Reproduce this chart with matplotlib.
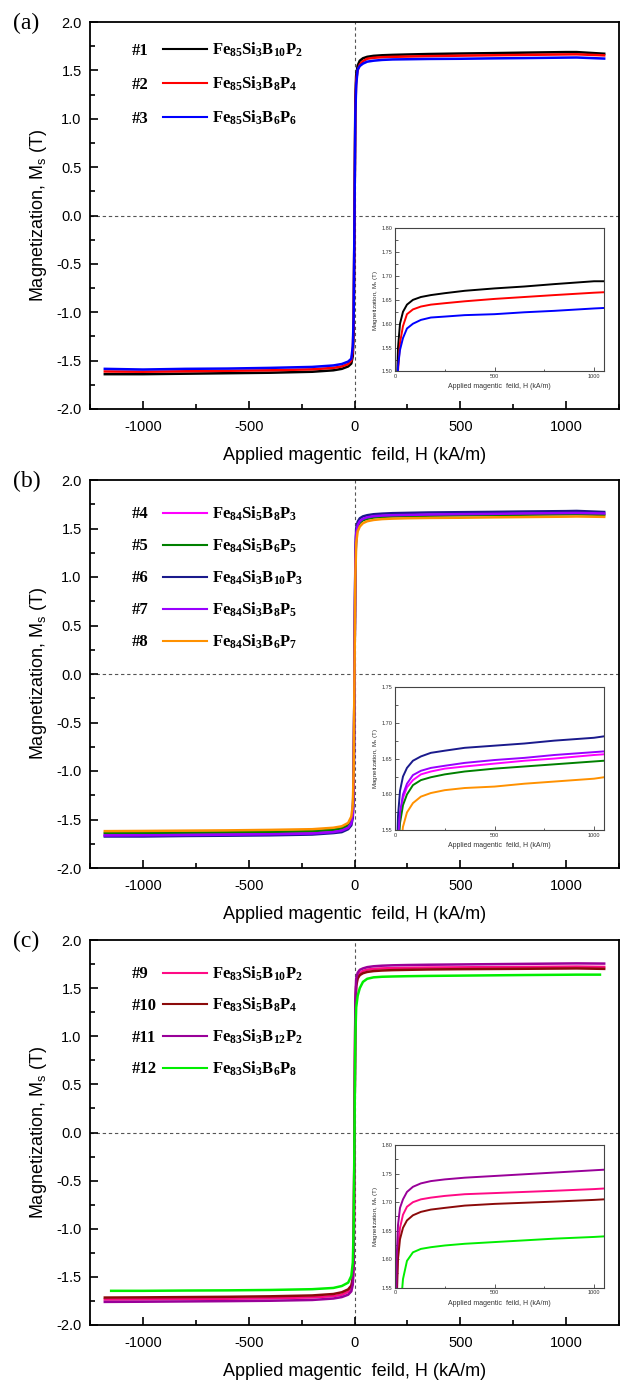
import matplotlib
matplotlib.use("Agg")
import matplotlib.pyplot as plt
from matplotlib.lines import Line2D
from matplotlib.ticker import MultipleLocator, FormatStrFormatter

plt.rcParams['font.family'] = ['Liberation Sans', 'DejaVu Sans']
plt.rcParams['mathtext.fontset'] = 'custom'
plt.rcParams['mathtext.rm'] = 'Liberation Sans'
plt.rcParams['mathtext.it'] = 'Liberation Sans:italic'
plt.rcParams['mathtext.bf'] = 'Liberation Serif:bold'
plt.rcParams['axes.unicode_minus'] = False

# applied field (kA/m), shared by all loops
H_GRID = [-1180, -1000, -800, -600, -400, -200, -100, -60, -30, -15, -8, -4, 0,
          4, 8, 15, 25, 40, 60, 90, 130, 180, 250, 350, 500, 650, 800, 1000, 1050, 1180]
# sample #12 was measured over a slightly shorter sweep
H_GRID_12 = [-1150, -1000, -800, -600, -400, -200, -100, -60, -30, -15, -8, -4, 0,
             4, 8, 15, 25, 40, 60, 90, 130, 180, 250, 350, 500, 650, 800, 1000, 1050, 1160]

M_1 = [-1.640, -1.640, -1.635, -1.630, -1.625, -1.615, -1.600, -1.585, -1.560, -1.530, -1.450, -1.200, 0.0,
       1.20, 1.45, 1.55, 1.60, 1.625, 1.640, 1.650, 1.656, 1.660, 1.664, 1.669, 1.674, 1.678, 1.683, 1.689, 1.689, 1.672]
M_2 = [-1.612, -1.615, -1.610, -1.605, -1.600, -1.590, -1.575, -1.560, -1.535, -1.500, -1.400, -1.100, 0.0,
       1.10, 1.40, 1.50, 1.56, 1.595, 1.620, 1.630, 1.636, 1.640, 1.643, 1.647, 1.652, 1.656, 1.660, 1.665, 1.666, 1.655]
M_3 = [-1.585, -1.592, -1.585, -1.582, -1.575, -1.565, -1.550, -1.535, -1.510, -1.480, -1.350, -1.050, 0.0,
       1.05, 1.35, 1.51, 1.545, 1.570, 1.590, 1.600, 1.608, 1.613, 1.615, 1.618, 1.620, 1.624, 1.627, 1.632, 1.633, 1.622]
M_4 = [-1.655, -1.653, -1.650, -1.647, -1.642, -1.635, -1.620, -1.605, -1.575, -1.530, -1.440, -1.150, 0.0,
       1.15, 1.44, 1.53, 1.57, 1.595, 1.610, 1.620, 1.628, 1.632, 1.636, 1.639, 1.643, 1.647, 1.650, 1.655, 1.656, 1.650]
M_5 = [-1.640, -1.638, -1.635, -1.632, -1.628, -1.620, -1.605, -1.590, -1.560, -1.520, -1.420, -1.120, 0.0,
       1.12, 1.42, 1.52, 1.56, 1.585, 1.600, 1.613, 1.620, 1.624, 1.628, 1.632, 1.636, 1.639, 1.642, 1.646, 1.647, 1.640]
M_6 = [-1.675, -1.675, -1.670, -1.667, -1.663, -1.655, -1.640, -1.630, -1.600, -1.560, -1.480, -1.200, 0.0,
       1.20, 1.50, 1.57, 1.605, 1.625, 1.637, 1.647, 1.653, 1.658, 1.661, 1.665, 1.668, 1.671, 1.675, 1.679, 1.681, 1.670]
M_7 = [-1.665, -1.663, -1.660, -1.657, -1.652, -1.645, -1.630, -1.615, -1.585, -1.540, -1.450, -1.150, 0.0,
       1.15, 1.45, 1.535, 1.575, 1.600, 1.615, 1.627, 1.633, 1.637, 1.640, 1.644, 1.648, 1.651, 1.655, 1.659, 1.660, 1.655]
M_8 = [-1.620, -1.618, -1.615, -1.612, -1.607, -1.600, -1.585, -1.570, -1.535, -1.470, -1.350, -1.000, 0.0,
       1.00, 1.35, 1.47, 1.52, 1.555, 1.575, 1.588, 1.597, 1.602, 1.606, 1.609, 1.611, 1.615, 1.618, 1.622, 1.624, 1.620]
M_9 = [-1.735, -1.733, -1.730, -1.727, -1.722, -1.713, -1.700, -1.685, -1.655, -1.615, -1.540, -1.300, 0.0,
       1.30, 1.55, 1.62, 1.655, 1.678, 1.692, 1.700, 1.705, 1.708, 1.711, 1.714, 1.716, 1.718, 1.720, 1.723, 1.724, 1.720]
M_10 = [-1.715, -1.713, -1.710, -1.707, -1.702, -1.693, -1.678, -1.660, -1.630, -1.590, -1.510, -1.280, 0.0,
        1.28, 1.52, 1.60, 1.635, 1.655, 1.668, 1.677, 1.683, 1.687, 1.690, 1.694, 1.697, 1.699, 1.701, 1.704, 1.705, 1.700]
M_11 = [-1.760, -1.758, -1.755, -1.752, -1.748, -1.740, -1.725, -1.710, -1.685, -1.650, -1.580, -1.350, 0.0,
        1.35, 1.60, 1.66, 1.69, 1.705, 1.718, 1.727, 1.733, 1.737, 1.740, 1.743, 1.746, 1.749, 1.752, 1.756, 1.757, 1.755]
M_12 = [-1.645, -1.645, -1.642, -1.640, -1.636, -1.628, -1.615, -1.595, -1.560, -1.490, -1.350, -1.000, 0.0,
        1.00, 1.30, 1.42, 1.50, 1.565, 1.597, 1.612, 1.618, 1.621, 1.624, 1.627, 1.630, 1.633, 1.636, 1.639, 1.640, 1.640]

IDS_A = ['#1', '#2', '#3']
NAMES_A = [r'$\mathbf{Fe_{85}Si_{3}B_{10}P_{2}}$', r'$\mathbf{Fe_{85}Si_{3}B_{8}P_{4}}$',
           r'$\mathbf{Fe_{85}Si_{3}B_{6}P_{6}}$']
COLORS_A = ['black', '#ff0000', '#0000ff']

IDS_B = ['#4', '#5', '#6', '#7', '#8']
NAMES_B = [r'$\mathbf{Fe_{84}Si_{5}B_{8}P_{3}}$', r'$\mathbf{Fe_{84}Si_{5}B_{6}P_{5}}$',
           r'$\mathbf{Fe_{84}Si_{3}B_{10}P_{3}}$', r'$\mathbf{Fe_{84}Si_{3}B_{8}P_{5}}$',
           r'$\mathbf{Fe_{84}Si_{3}B_{6}P_{7}}$']
COLORS_B = ['#ff00ff', '#008000', '#1a1a8c', '#9900ff', '#ff9100']

IDS_C = ['#9', '#10', '#11', '#12']
NAMES_C = [r'$\mathbf{Fe_{83}Si_{5}B_{10}P_{2}}$', r'$\mathbf{Fe_{83}Si_{5}B_{8}P_{4}}$',
           r'$\mathbf{Fe_{83}Si_{3}B_{12}P_{2}}$', r'$\mathbf{Fe_{83}Si_{3}B_{6}P_{8}}$']
COLORS_C = ['#ff0a85', '#8b0a0a', '#990099', '#00ee00']

XLABEL = 'Applied magentic  feild, H (kA/m)'
YLABEL = r'Magnetization, M$_\mathrm{s}$ (T)'

W, H = 621, 1389
fig = plt.figure(figsize=(W / 100, H / 100), dpi=100)


def px_rect(x0, y0, x1, y1):
    return [x0 / W, 1 - y1 / H, (x1 - x0) / W, (y1 - y0) / H]


def draw_panel(rect, tag, ids, names, hs, ms, colors, in_ylim, leg_y0, leg_dy):
    ax = fig.add_axes(rect)
    ax.axvline(0, color='#555555', ls=(0, (3, 2.5)), lw=0.8, zorder=1)
    ax.axhline(0, color='#555555', ls=(0, (3, 2.5)), lw=0.8, zorder=1)
    for h, m, c in zip(hs, ms, colors):
        ax.plot(h, m, color=c, lw=1.8, zorder=2)
    ax.set_xlim(-1250, 1250)
    ax.set_ylim(-2.0, 2.0)
    ax.xaxis.set_major_locator(MultipleLocator(500))
    ax.xaxis.set_minor_locator(MultipleLocator(250))
    ax.yaxis.set_major_locator(MultipleLocator(0.5))
    ax.yaxis.set_minor_locator(MultipleLocator(0.25))
    ax.yaxis.set_major_formatter(FormatStrFormatter('%.1f'))
    ax.tick_params(which='both', direction='in', labelsize=10.5, width=1.2)
    ax.tick_params(which='major', length=6)
    ax.tick_params(which='minor', length=3.5)
    ax.tick_params(axis='x', which='major', pad=8)
    ax.tick_params(axis='y', which='major', pad=6)
    for s in ax.spines.values():
        s.set_linewidth(1.3)
    ax.set_xlabel(XLABEL, fontsize=13, labelpad=9)
    ax.set_ylabel(YLABEL, fontsize=13, labelpad=5)
    ax.text(-0.145, 0.995, tag, transform=ax.transAxes, family='Liberation Serif',
            fontsize=17, va='center', ha='left')

    # hand-made legend: id, line, composition
    for i, (lab, name, c) in enumerate(zip(ids, names, colors)):
        y = leg_y0 - i * leg_dy
        ax.text(0.078, y - 0.014, lab, transform=ax.transAxes, family='Liberation Serif',
                weight='bold', fontsize=12, va='baseline', ha='left')
        ax.add_line(Line2D([0.138, 0.221], [y, y], transform=ax.transAxes, color=c, lw=1.5))
        ax.text(0.231, y - 0.014, name, transform=ax.transAxes, fontsize=12,
                va='baseline', ha='left')

    # zoomed inset of the upper branch
    axin = ax.inset_axes([0.5766, 0.097, 0.395, 0.37])
    for h, m, c in zip(hs, ms, colors):
        axin.plot(h, m, color=c, lw=1.4)
    axin.set_xlim(0, 1050)
    axin.set_ylim(*in_ylim)
    axin.set_xticks([0, 500, 1000])
    axin.set_xticks([250, 750], minor=True)
    axin.yaxis.set_major_locator(MultipleLocator(0.05))
    axin.yaxis.set_minor_locator(MultipleLocator(0.025))
    axin.yaxis.set_major_formatter(FormatStrFormatter('%.2f'))
    axin.tick_params(which='both', direction='in', labelsize=4, width=0.6, pad=2,
                     color='#444444', labelcolor='#333333')
    axin.tick_params(which='major', length=3)
    axin.tick_params(which='minor', length=1.8)
    for s in axin.spines.values():
        s.set_linewidth(0.8)
        s.set_color('#444444')
    axin.set_xlabel(XLABEL, fontsize=5, labelpad=3, color='#333333')
    axin.set_ylabel(YLABEL, fontsize=4.5, labelpad=1, color='#333333')
    return ax


draw_panel(px_rect(90, 22, 619, 409), '(a)', IDS_A, NAMES_A,
           [H_GRID] * 3, [M_1, M_2, M_3], COLORS_A, (1.50, 1.80), 0.93, 0.088)
draw_panel(px_rect(90, 480, 619, 868), '(b)', IDS_B, NAMES_B,
           [H_GRID] * 5, [M_4, M_5, M_6, M_7, M_8], COLORS_B, (1.55, 1.75), 0.915, 0.0825)
draw_panel(px_rect(90, 940, 619, 1325), '(c)', IDS_C, NAMES_C,
           [H_GRID, H_GRID, H_GRID, H_GRID_12], [M_9, M_10, M_11, M_12], COLORS_C, (1.55, 1.80), 0.915, 0.0825)

fig.savefig('out.png', dpi=100)
